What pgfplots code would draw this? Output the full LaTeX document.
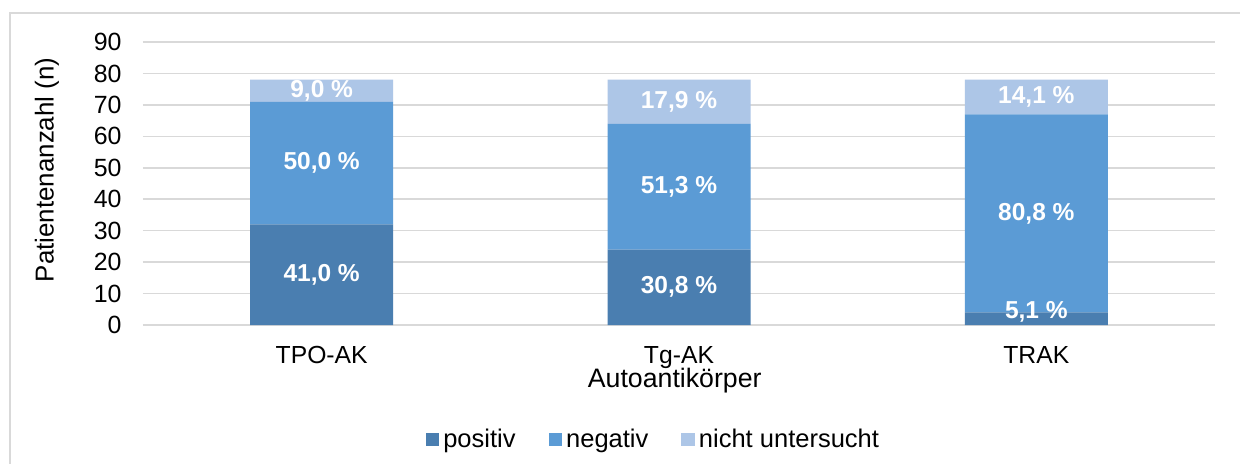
\documentclass[border=0pt]{standalone}
\usepackage{pgfplots}
\pgfplotsset{compat=1.18}
\usepackage{pgfplotstable}
\usepackage{fontspec}
\setmainfont{Liberation Sans}
\definecolor{cpos}{HTML}{4A7EB0}
\definecolor{cneg}{HTML}{5B9BD5}
\definecolor{cnu}{HTML}{ADC6E7}
\definecolor{cgrid}{HTML}{D9D9D9}
\pgfplotstableread{
x pos neg nu
0 32 39 7
1 24 40 14
2 4 63 11
}\bars
\pgfplotstableread{
x y label
0 16 {41,0 \%}
1 12 {30,8 \%}
2 4.1 {5,1 \%}
0 51.5 {50,0 \%}
1 44 {51,3 \%}
2 35.5 {80,8 \%}
0 74.5 {9,0 \%}
1 71 {17,9 \%}
2 72.5 {14,1 \%}
}\labels
\begin{document}
\begin{tikzpicture}
\useasboundingbox (-71.5bp,-69.5bp) rectangle (548.5bp,162.5bp);
\fill[white] (-71.5bp,-69.5bp) rectangle (548.5bp,162.5bp);
\draw[cgrid, line width=1.2bp] (-66.5bp,-70bp) -- (-66.5bp,156bp) -- (549bp,156bp);
\begin{axis}[
  at={(0,0)}, anchor=south west,
  scale only axis, width=536bp, height=141.5bp,
  ybar stacked, bar width=71.5bp,
  xmin=-0.5, xmax=2.5, ymin=0, ymax=90,
  ytick={0,10,...,90},
  xtick=data, xticklabels={TPO-AK,Tg-AK,TRAK},
  major tick length=0,
  axis line style={draw=none},
  ymajorgrids, grid style={cgrid, line width=0.8bp},
  yticklabel style={anchor=east, inner sep=0pt, xshift=-10.5bp, font=\fontsize{12.5}{14}\selectfont},
  xticklabel style={anchor=north, inner sep=0pt, yshift=-10.5bp, font=\fontsize{12.4}{14}\selectfont},
  /pgf/number format/assume math mode=true,
  ylabel={Patientenanzahl (n)},
  ylabel style={at={(axis description cs:-0.0896,0.548)}, anchor=center, rotate=0, font=\fontsize{13}{15}\selectfont},
  xlabel={Autoantikörper},
  xlabel style={at={(axis description cs:0.496,-0.152)}, anchor=north, inner sep=0pt, font=\fontsize{13.4}{15}\selectfont},
  legend style={at={(axis description cs:0.477,-0.406)}, anchor=center, draw=none, fill=none,
    font=\fontsize{12.8}{15}\selectfont, legend columns=3,
    /tikz/every even column/.append style={column sep=14.5bp}},
  legend image code/.code={\fill[#1] (0bp,-3.2bp) rectangle (6.8bp,3.6bp);},
  legend cell align=left,
]
\addplot[fill=cpos, draw=none] table[x=x, y=pos] {\bars};
\addplot[fill=cneg, draw=none] table[x=x, y=neg] {\bars};
\addplot[fill=cnu, draw=none] table[x=x, y=nu] {\bars};
\legend{positiv,negativ,nicht untersucht}
\end{axis}
\begin{axis}[
  at={(0,0)}, anchor=south west,
  scale only axis, width=536bp, height=141.5bp,
  xmin=-0.5, xmax=2.5, ymin=0, ymax=90,
  hide axis,
]
\addplot[draw=none, mark=none, nodes near coords, point meta=explicit symbolic,
  every node near coord/.style={anchor=center, text=white, font=\bfseries\fontsize{12.3}{14}\selectfont}]
  table[x=x, y=y, meta=label] {\labels};
\end{axis}
\end{tikzpicture}
\end{document}
